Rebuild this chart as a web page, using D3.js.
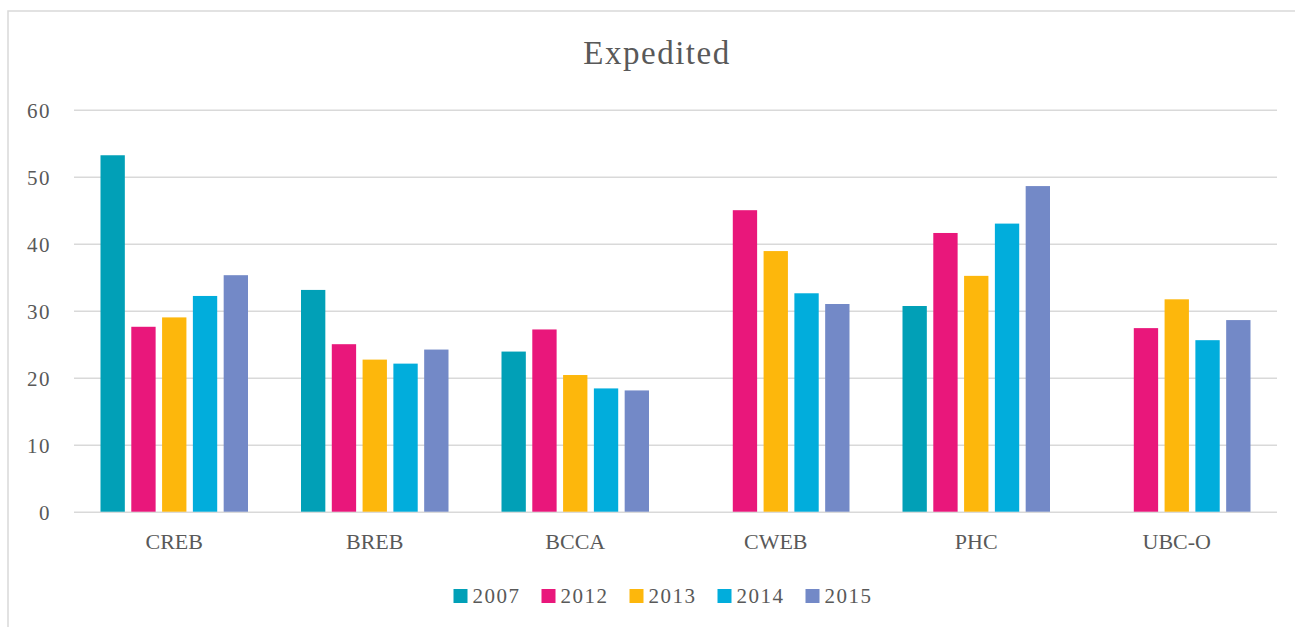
<!DOCTYPE html>
<html>
<head>
<meta charset="utf-8">
<script src="https://cdn.jsdelivr.net/npm/d3@7"></script>
<style>
  body { margin: 0; background: #fff; }
  svg text { font-family: "Liberation Serif", "DejaVu Serif", serif; fill: #595959; font-variant-numeric: oldstyle-nums; }
</style>
</head>
<body>
<svg id="chart" width="1295" height="627"></svg>
<script>
const categories = ['CREB', 'BREB', 'BCCA', 'CWEB', 'PHC', 'UBC-O'];
const years = ['2007', '2012', '2013', '2014', '2015'];
// null = no bar for that year
const v2007 = [53.2, 33.1, 23.9, null, 30.7, null];
const v2012 = [27.6, 25.0, 27.2, 45.0, 41.6, 27.4];
const v2013 = [29.0, 22.7, 20.4, 38.9, 35.2, 31.7];
const v2014 = [32.2, 22.1, 18.4, 32.6, 43.0, 25.6];
const v2015 = [35.3, 24.2, 18.1, 31.0, 48.6, 28.6];
const yTicks = [0, 10, 20, 30, 40, 50, 60];
const colors = ['#01a0b7', '#e9177b', '#fdb70c', '#01addc', '#7389c7'];

const seriesValues = [v2007, v2012, v2013, v2014, v2015];
const svg = d3.select('#chart');

// chart frame, right and bottom edges run off the picture
svg.append('rect')
  .attr('x', 8).attr('y', 11)
  .attr('width', 1400).attr('height', 800)
  .attr('fill', 'none')
  .attr('stroke', '#d9d9d9')
  .attr('stroke-width', 1.5);

const plot = { left: 74, right: 1277, top: 109.7, bottom: 511.7 };

const y = d3.scaleLinear().domain([0, 60]).range([plot.bottom, plot.top]);
const x0 = d3.scaleBand().domain(categories).range([plot.left, plot.right]);
const x1 = d3.scaleBand().domain(years)
  .range([26.5, x0.bandwidth() - 26.5])
  .paddingInner(0.21);
const color = d3.scaleOrdinal().domain(years).range(colors);

// grid + y labels
const gridY = svg.append('g')
  .attr('transform', `translate(${plot.left},0)`)
  .call(d3.axisLeft(y).tickValues(yTicks).tickSize(-(plot.right - plot.left)).tickPadding(23));
gridY.select('.domain').remove();
gridY.selectAll('.tick line')
  .attr('stroke', '#d9d9d9')
  .attr('stroke-width', 1.5);
gridY.selectAll('.tick text')
  .attr('font-size', 21)
  .attr('letter-spacing', 1.5)
  .attr('dy', '0.35em');

// bars
const groups = svg.append('g')
  .selectAll('g')
  .data(categories)
  .join('g')
  .attr('transform', d => `translate(${x0(d)},0)`);

groups.selectAll('rect')
  .data((c, i) => years.map((yr, k) => ({ year: yr, value: seriesValues[k][i] }))
    .filter(d => d.value !== null))
  .join('rect')
  .attr('x', d => x1(d.year))
  .attr('width', x1.bandwidth())
  .attr('y', d => y(d.value))
  .attr('height', d => y(0) - y(d.value))
  .attr('fill', d => color(d.year));

// category labels
const axisX = svg.append('g')
  .attr('transform', `translate(0,${plot.bottom})`)
  .call(d3.axisBottom(x0).tickSize(0).tickPadding(22));
axisX.select('.domain').remove();
axisX.selectAll('.tick text')
  .attr('font-size', 22)
  .attr('dy', '0.71em');

// title
svg.append('text')
  .attr('x', 657)
  .attr('y', 64)
  .attr('text-anchor', 'middle')
  .attr('font-size', 33)
  .attr('letter-spacing', 1.5)
  .text('Expedited');

// legend
const legend = svg.append('g');
let lx = 0;
years.forEach(yr => {
  const g = legend.append('g').attr('transform', `translate(${lx},0)`);
  g.append('rect').attr('width', 14).attr('height', 14).attr('fill', color(yr));
  const t = g.append('text')
    .attr('x', 19).attr('y', 14)
    .attr('font-size', 21)
    .attr('letter-spacing', 1.5)
    .text(yr);
  lx += 19 + t.node().getComputedTextLength() + 21;
});
const legendWidth = lx - 21;
legend.attr('transform', `translate(${663 - legendWidth / 2},589)`);
</script>
</body>
</html>
